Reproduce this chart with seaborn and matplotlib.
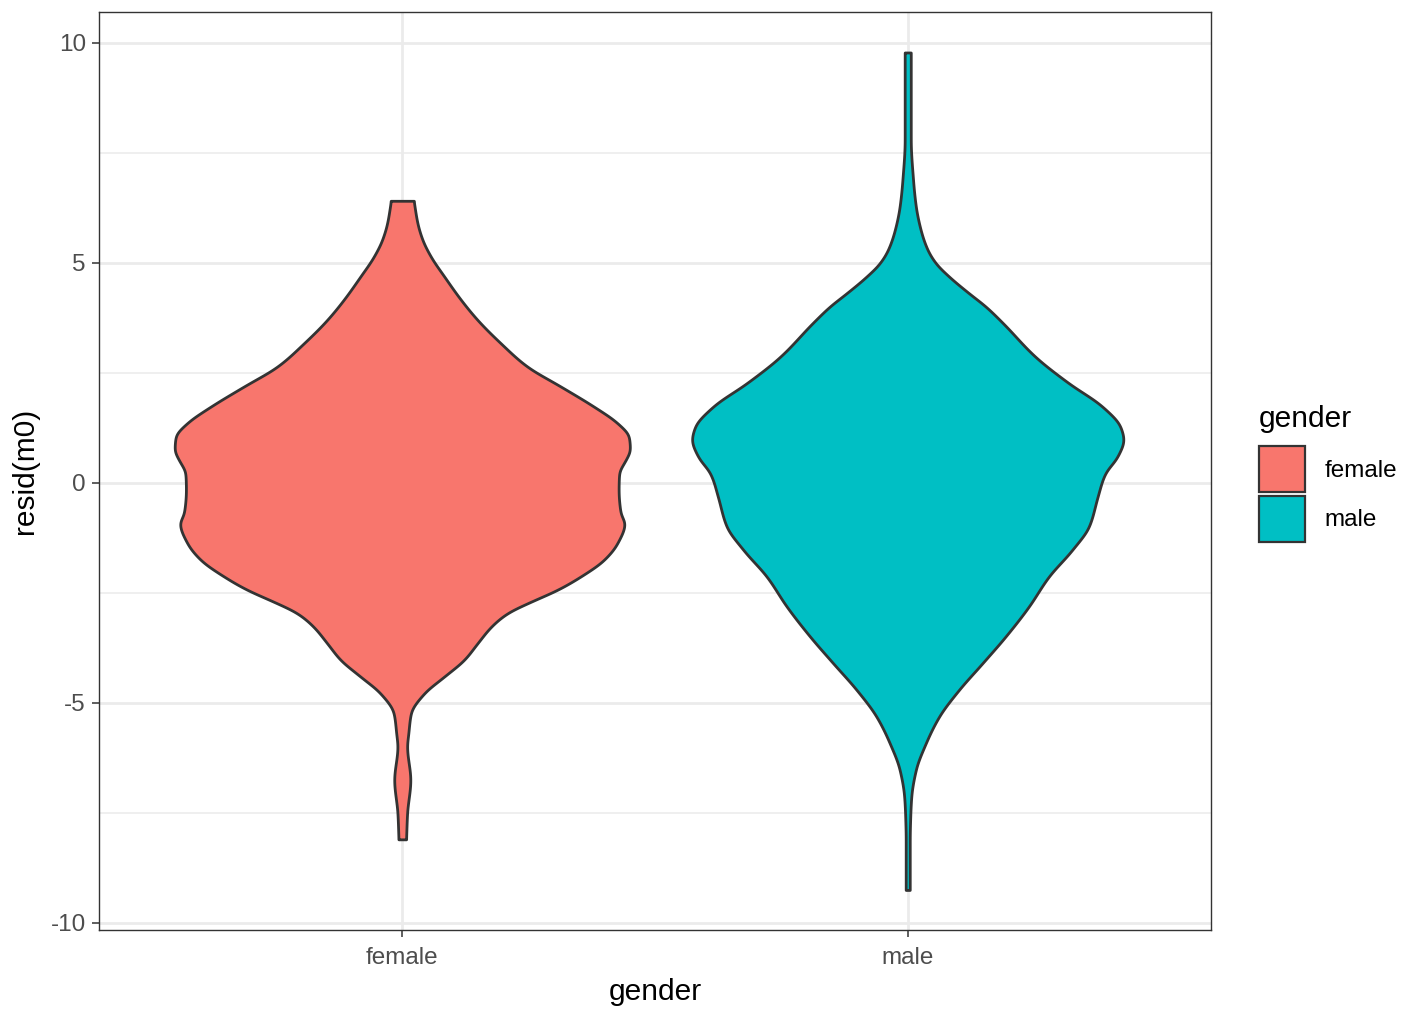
import numpy as np
import matplotlib
matplotlib.use("Agg")
import matplotlib.pyplot as plt
from matplotlib.patches import Patch
import seaborn as sns

# Groups and fill colours
groups = ["female", "male"]
group_colors = ["#F8766D", "#00BFC4"]

# Violin outlines: residual level and full violin width (in category units)
female_resid = [6.41, 5.90, 5.52, 5.14, 4.69, 4.16, 3.70, 3.17, 2.64, 2.19, 1.73, 1.36,
                1.05, 0.75, 0.52, 0.22, -0.16, -0.69, -0.92, -1.37, -1.75, -2.13,
                -2.43, -2.70, -2.96, -3.27, -3.64, -4.02, -4.40, -4.78, -5.23, -5.69,
                -5.99, -6.75, -7.51, -8.10]
female_width = [0.045, 0.060, 0.080, 0.113, 0.166, 0.232, 0.298, 0.390, 0.495, 0.627,
                0.759, 0.851, 0.897, 0.901, 0.884, 0.858, 0.856, 0.864, 0.880, 0.851,
                0.798, 0.705, 0.614, 0.509, 0.416, 0.351, 0.298, 0.245, 0.166, 0.087,
                0.034, 0.024, 0.019, 0.032, 0.019, 0.015]

male_resid = [9.78, 7.80, 6.89, 6.28, 5.75, 5.30, 4.99, 4.69, 4.31, 4.01, 3.64, 2.86,
              2.27, 1.73, 1.27, 0.98, 0.60, 0.23, 0.07, -0.32, -0.99, -1.52, -2.13,
              -2.81, -3.49, -4.10, -4.70, -5.31, -5.92, -6.52, -7.13, -7.58, -8.11,
              -9.25]
male_width = [0.012, 0.012, 0.021, 0.032, 0.051, 0.078, 0.111, 0.163, 0.242, 0.308,
              0.375, 0.506, 0.636, 0.771, 0.842, 0.854, 0.830, 0.783, 0.771, 0.751,
              0.717, 0.651, 0.558, 0.479, 0.387, 0.295, 0.203, 0.124, 0.071, 0.032,
              0.014, 0.010, 0.008, 0.008]

y_ticks = [-10, -5, 0, 5, 10]
y_minor = [-7.5, -2.5, 2.5, 7.5]


def pchip(x, y, xs):
    """Shape-preserving cubic interpolation of y(x) evaluated at xs."""
    x = np.asarray(x, float)
    y = np.asarray(y, float)
    h = np.diff(x)
    delta = np.diff(y) / h
    n = len(x)
    d = np.zeros(n)
    for k in range(1, n - 1):
        if delta[k - 1] * delta[k] > 0:
            w1 = 2 * h[k] + h[k - 1]
            w2 = h[k] + 2 * h[k - 1]
            d[k] = (w1 + w2) / (w1 / delta[k - 1] + w2 / delta[k])
    d[0] = delta[0]
    d[-1] = delta[-1]
    idx = np.clip(np.searchsorted(x, xs) - 1, 0, n - 2)
    t = (xs - x[idx]) / h[idx]
    h00 = 2 * t**3 - 3 * t**2 + 1
    h10 = t**3 - 2 * t**2 + t
    h01 = -2 * t**3 + 3 * t**2
    h11 = t**3 - t**2
    return (h00 * y[idx] + h10 * h[idx] * d[idx]
            + h01 * y[idx + 1] + h11 * h[idx] * d[idx + 1])


def soften(values, step, sigma=0.07):
    """Light Gaussian smoothing of an evenly sampled outline."""
    k = int(np.ceil(3 * sigma / step))
    t = np.arange(-k, k + 1) * step
    kern = np.exp(-0.5 * (t / sigma) ** 2)
    kern /= kern.sum()
    padded = np.pad(values, k, mode="edge")
    return np.convolve(padded, kern, mode="valid")


sns.set_theme(style="whitegrid")
plt.rcParams["font.family"] = ["Liberation Sans", "DejaVu Sans"]

fig = plt.figure(figsize=(14.16, 10.11), dpi=100)
ax = fig.add_axes([99 / 1416, 81 / 1011, 1112 / 1416, 918 / 1011])
ax.set_facecolor("white")

grid_col = "#EBEBEB"
dark = "#333333"

profiles = [(female_resid, female_width), (male_resid, male_width)]
for pos, ((res, wid), col) in enumerate(zip(profiles, group_colors)):
    r = np.asarray(res[::-1])
    w = np.asarray(wid[::-1])
    yy = np.linspace(r.min(), r.max(), 1200)
    full = soften(pchip(r, w, yy), yy[1] - yy[0])
    half = np.clip(full, 0.004, None) / 2
    ax.fill_betweenx(yy, pos - half, pos + half, facecolor=col,
                     edgecolor=dark, linewidth=2.0, zorder=3)

ax.set_xlim(-0.6, 1.6)
ax.set_ylim(-10.16, 10.70)
ax.set_xticks([0, 1])
ax.set_xticklabels(groups)
ax.set_yticks(y_ticks)
ax.set_yticklabels([str(v) for v in y_ticks])
ax.set_yticks(y_minor, minor=True)

ax.grid(which="major", color=grid_col, linewidth=2.0, zorder=0)
ax.grid(which="minor", axis="y", color=grid_col, linewidth=1.1, zorder=0)
ax.set_axisbelow(True)

for s in ax.spines.values():
    s.set_visible(True)
    s.set_color(dark)
    s.set_linewidth(1.0)

ax.tick_params(axis="both", which="major", length=5, width=1.1, color=dark,
               labelsize=17.5, labelcolor="#4D4D4D", left=True, bottom=True)
ax.tick_params(axis="x", which="major", pad=7)
ax.tick_params(axis="y", which="major", pad=4.5)
ax.tick_params(axis="y", which="minor", length=0)

ax.set_xlabel("gender", fontsize=21.5, color="black", labelpad=7)
ax.set_ylabel("resid(m0)", fontsize=21.5, color="black", labelpad=8)

handles = [Patch(facecolor=c, edgecolor=dark, linewidth=1.6) for c in group_colors]
leg = fig.legend(handles, groups, title="gender", loc="upper left",
                 bbox_to_anchor=(1259 / 1416, 1 - 405 / 1011), frameon=False,
                 fontsize=17.5, title_fontsize=21.5, alignment="left",
                 handlelength=1.89, handleheight=2.53, labelspacing=0.15,
                 handletextpad=0.8, borderpad=0, borderaxespad=0)
leg._legend_box.sep = 9.5
for t in leg.get_texts():
    t.set_color("black")
leg.get_title().set_color("black")

fig.savefig("out.png", dpi=100, facecolor="white")
